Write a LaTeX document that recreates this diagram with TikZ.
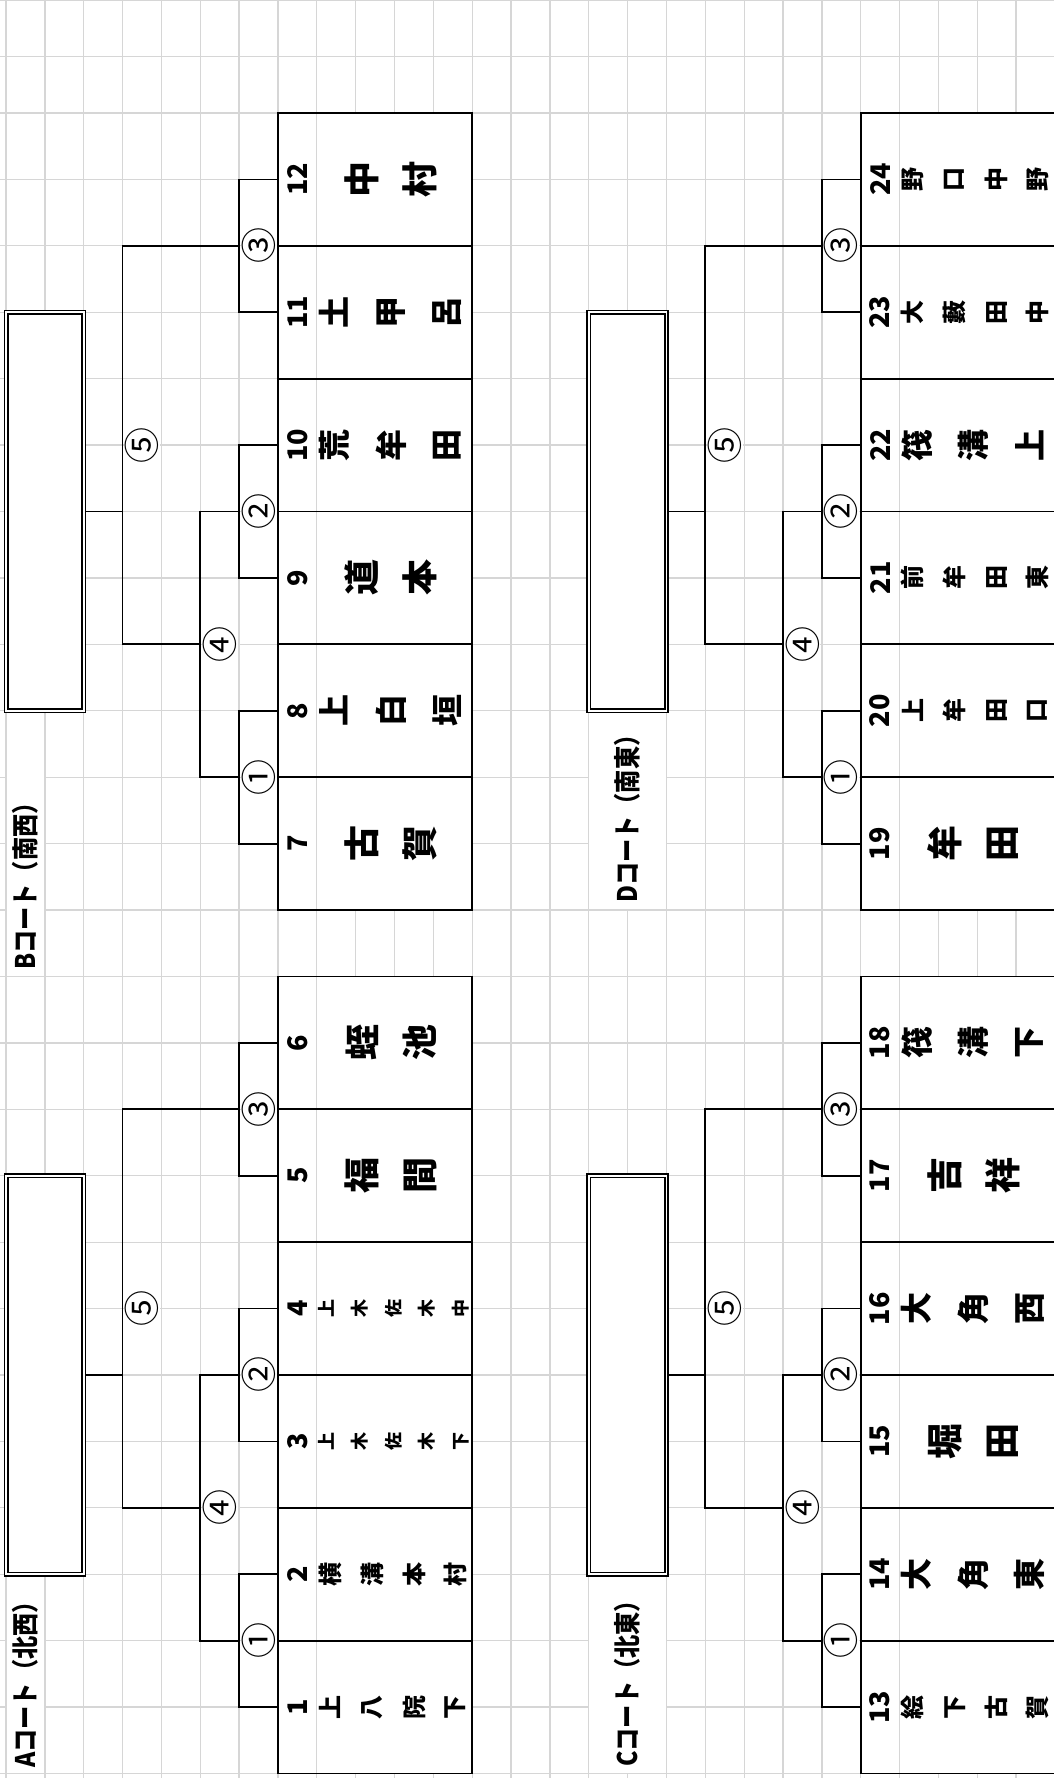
\documentclass[tikz,border=0pt]{standalone}
\usepackage{fontspec}
\setmainfont{Noto Sans CJK JP}
\usepackage{graphicx}
\definecolor{gridc}{RGB}{214,214,214}
\newcommand\nmfont[1]{\bfseries\fontsize{#1}{#1}\selectfont}
\tikzset{
 gridl/.style={draw=gridc, line width=1.3pt},
 br/.style={draw=black, line width=1.8pt},
 teambox/.style={draw=black, line width=1.8pt, fill=white, minimum width=194.25pt, minimum height=132.84pt, inner sep=0pt, outer sep=0pt,
   path picture={\draw[gridl] ([xshift=38.85pt]path picture bounding box.north west) -- ([xshift=38.85pt]path picture bounding box.south west);}},
 winbox/.style={draw=black, double=white, double distance=1.6pt, line width=1.7pt, fill=white, minimum width=77.7pt, minimum height=398.52pt, inner sep=0pt, outer sep=2.5pt},
 circ/.style={rotate=90, fill=white, inner sep=0pt, minimum width=32pt, minimum height=36pt, font=\fontsize{36}{36}\selectfont},
 num/.style={rotate=90, inner sep=0pt, font=\nmfont{27}},
 nm/.style={rotate=90, inner sep=0pt},
 lbl/.style={rotate=90, anchor=west, inner sep=0pt, font=\nmfont{27}}
}
% half bracket: #1 prefix, #2 x offset, #3 row offset, #4..#9 team numbers top to bottom
\newcommand\half[9]{%
 \foreach \t [count=\i from 0] in {#4,#5,#6,#7,#8,#9} {
   \node[teambox] (b\t) at ({#2+375.075},{113+66.42*(#3+2*\i+1)}) {};
 }
 \node[winbox] (w#1) at ({#2+44.85},{113+66.42*(#3+6)}) {};
 \node[circ] (#1m3) at ({#2+258.5},{113+66.42*(#3+2)}) {③};
 \node[circ] (#1m2) at ({#2+258.5},{113+66.42*(#3+6)}) {②};
 \node[circ] (#1m1) at ({#2+258.5},{113+66.42*(#3+10)}) {①};
 \node[circ] (#1m4) at ({#2+219.7},{113+66.42*(#3+8)}) {④};
 \node[circ] (#1m5) at ({#2+142},{113+66.42*(#3+5)}) {⑤};
 \draw[br] (b#4.west) -- ++(-38.85,0) |- (b#5.west);
 \draw[br] (b#6.west) -- ++(-38.85,0) |- (b#7.west);
 \draw[br] (b#8.west) -- ++(-38.85,0) |- (b#9.west);
 \coordinate (#1j3) at ({#2+239.1},{113+66.42*(#3+2)});
 \coordinate (#1j2) at ({#2+239.1},{113+66.42*(#3+6)});
 \coordinate (#1j1) at ({#2+239.1},{113+66.42*(#3+10)});
 \coordinate (#1j4) at ({#2+200.25},{113+66.42*(#3+8)});
 \coordinate (#1j5) at ({#2+122.55},{113+66.42*(#3+6)});
 \draw[br] (#1j2) -- ++(-38.85,0) |- (#1j1);
 \draw[br] (#1j3) -- ++(-116.55,0) |- (#1j4);
 \draw[br] (#1j5) -- (w#1.east);
}
\newcommand\ttwo[5]{%
 \node[num] (n#3) at ({#1+297.4},{113+66.42*#2}) {#3};
 \node[nm, font=\nmfont{36}] (n#3a) at ({#1+362},{113+66.42*#2}) {#4};
 \node[nm, font=\nmfont{36}] (n#3b) at ({#1+420},{113+66.42*#2}) {#5};}
\newcommand\tthree[6]{%
 \node[num] (n#3) at ({#1+297.4},{113+66.42*#2}) {#3};
 \node[nm, font=\nmfont{32}] (n#3a) at ({#1+334},{113+66.42*#2}) {#4};
 \node[nm, font=\nmfont{32}] (n#3b) at ({#1+391},{113+66.42*#2}) {#5};
 \node[nm, font=\nmfont{32}] (n#3c) at ({#1+447},{113+66.42*#2}) {#6};}
\newcommand\tfour[7]{%
 \node[num] (n#3) at ({#1+297.4},{113+66.42*#2}) {#3};
 \node[nm, font=\nmfont{24}] (n#3a) at ({#1+330},{113+66.42*#2}) {#4};
 \node[nm, font=\nmfont{24}] (n#3b) at ({#1+372},{113+66.42*#2}) {#5};
 \node[nm, font=\nmfont{24}] (n#3c) at ({#1+414},{113+66.42*#2}) {#6};
 \node[nm, font=\nmfont{24}] (n#3d) at ({#1+455},{113+66.42*#2}) {#7};}
\newcommand\tfive[8]{%
 \node[num] (n#3) at ({#1+297.4},{113+66.42*#2}) {#3};
 \node[nm, font=\nmfont{18}] (n#3a) at ({#1+326},{113+66.42*#2}) {#4};
 \node[nm, font=\nmfont{18}] (n#3b) at ({#1+360},{113+66.42*#2}) {#5};
 \node[nm, font=\nmfont{18}] (n#3c) at ({#1+394},{113+66.42*#2}) {#6};
 \node[nm, font=\nmfont{18}] (n#3d) at ({#1+427},{113+66.42*#2}) {#7};
 \node[nm, font=\nmfont{18}] (n#3e) at ({#1+461},{113+66.42*#2}) {#8};}
\begin{document}
\begin{tikzpicture}[x=1pt, y=-1pt]
\useasboundingbox (0,0) rectangle (1054,1778);
\clip (0,0) rectangle (1054,1778);
\fill[white] (0,0) rectangle (1054,1778);
% grid
\foreach \j in {0,...,26} \draw[gridl] ({6+38.85*\j},0) -- ({6+38.85*\j},1778);
\foreach \k in {0,...,25} \draw[gridl] (0,{113+66.42*\k}) -- (1054,{113+66.42*\k});
\draw[gridl] (0,56.5) -- (1054,56.5);
\draw[gridl] (0,0.7) -- (1054,0.7);
% label cells
\fill[white] (6.7,711.5) rectangle (44.2,975.8);
\fill[white] (6.7,1574.9) rectangle (44.2,1772.8);
\fill[white] (589.4,711.5) rectangle (665.8,909.4);
\fill[white] (589.4,1574.9) rectangle (665.8,1772.8);
% brackets
\half{B}{0}{0}{12}{11}{10}{9}{8}{7}
\half{A}{0}{13}{6}{5}{4}{3}{2}{1}
\half{D}{582.75}{0}{24}{23}{22}{21}{20}{19}
\half{C}{582.75}{13}{18}{17}{16}{15}{14}{13}
% teams
\ttwo{0}{1}{12}{中}{村}
\tthree{0}{3}{11}{土}{甲}{呂}
\tthree{0}{5}{10}{荒}{牟}{田}
\ttwo{0}{7}{9}{道}{本}
\tthree{0}{9}{8}{上}{白}{垣}
\ttwo{0}{11}{7}{古}{賀}
\ttwo{0}{14}{6}{蛭}{池}
\ttwo{0}{16}{5}{福}{間}
\tfive{0}{18}{4}{上}{木}{佐}{木}{中}
\tfive{0}{20}{3}{上}{木}{佐}{木}{下}
\tfour{0}{22}{2}{横}{溝}{本}{村}
\tfour{0}{24}{1}{上}{八}{院}{下}
\tfour{582.75}{1}{24}{野}{口}{中}{野}
\tfour{582.75}{3}{23}{大}{藪}{田}{中}
\tthree{582.75}{5}{22}{筏}{溝}{上}
\tfour{582.75}{7}{21}{前}{牟}{田}{東}
\tfour{582.75}{9}{20}{上}{牟}{田}{口}
\ttwo{582.75}{11}{19}{牟}{田}
\tthree{582.75}{14}{18}{筏}{溝}{下}
\ttwo{582.75}{16}{17}{吉}{祥}
\tthree{582.75}{18}{16}{大}{角}{西}
\ttwo{582.75}{20}{15}{堀}{田}
\tthree{582.75}{22}{14}{大}{角}{東}
\tfour{582.75}{24}{13}{絵}{下}{古}{賀}
% court labels
\node[lbl] (lA) at (25.4,1768) {\scalebox{0.86}[1]{Aコート（北西）}};
\node[lbl] (lB) at (25.4,970) {\scalebox{0.86}[1]{Bコート（南西）}};
\node[lbl] (lC) at (627.6,1767) {\scalebox{0.86}[1]{Cコート（北東）}};
\node[lbl] (lD) at (627.6,903) {\scalebox{0.86}[1]{Dコート（南東）}};
\end{tikzpicture}
\end{document}
